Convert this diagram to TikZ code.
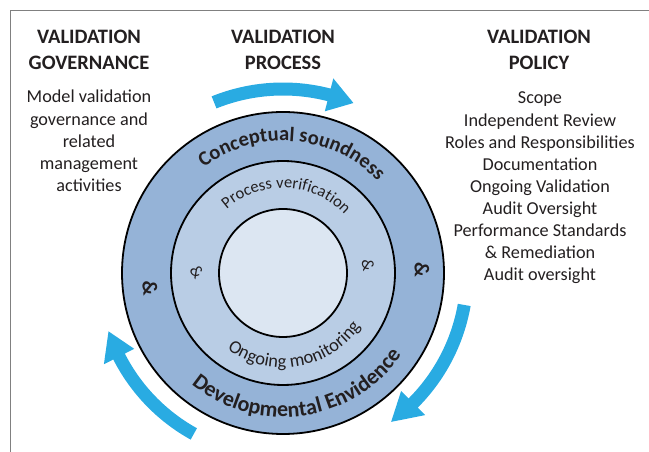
\documentclass[tikz,border=0pt]{standalone}
\usepackage{fontspec}
\setmainfont{Carlito}
\usetikzlibrary{calc,decorations.text}
\definecolor{ringout}{HTML}{95B3D7}
\definecolor{ringmid}{HTML}{B9CDE5}
\definecolor{ringin}{HTML}{DCE6F2}
\definecolor{cyc}{HTML}{29ABE2}
\definecolor{ink}{HTML}{231F20}
\newcommand{\cyclearrow}[3]{%
  \fill[cyc] ($(C)+(#1:190.5pt)$) arc[start angle=#1,end angle=#2,radius=190.5pt]
    -- ($(C)+(#2:201pt)$) -- ($(C)+(#3:184pt)$) -- ($(C)+(#2:167pt)$)
    -- ($(C)+(#2:177.5pt)$) arc[start angle=#2,end angle=#1,radius=177.5pt] -- cycle;}
\tikzset{
  ring/.style={circle, draw=black, line width=1.8pt, inner sep=0pt},
  title/.style={font=\fontsize{20.5}{26}\selectfont\bfseries, text=ink, align=center, inner sep=0pt, anchor=base},
  body/.style={font=\fontsize{18.2}{22.1}\selectfont, text=ink, align=center, inner sep=0pt, anchor=base},
  ampbig/.style={font=\fontsize{21}{21}\selectfont\bfseries, text=ink, inner sep=0pt},
  ampsmall/.style={font=\fontsize{17}{17}\selectfont, text=ink, inner sep=0pt}
}
\begin{document}
\begin{tikzpicture}[x=1pt,y=1pt]
\useasboundingbox (0,0) rectangle (649,452);
\coordinate (C) at (283,179);
\coordinate (fb) at (10,0);
\coordinate (fl) at (10,441);
\coordinate (fr) at (649,441);
\draw[gray, line width=1pt] (fb) -- (fl) -- (fr);

% cycle arrows
\cyclearrow{112}{75.5}{67.5}
\cyclearrow{-10}{-45}{-54}
\cyclearrow{241}{207}{198.5}

% rings
\node[ring, fill=ringout, minimum size=322pt] (outer) at (C) {};
\node[ring, fill=ringmid, minimum size=224pt] (mid) at (C) {};
\node[ring, fill=ringin, minimum size=128pt] (inner) at (C) {};

% curved texts
\path[decorate, decoration={text along path, text align=center, text color=ink,
  text={|\fontsize{20.5}{20.5}\selectfont\bfseries|Conceptual soundness}}]
  ($(C)+(175.5:132pt)$) arc[start angle=175.5, end angle=-4.5, radius=132pt];
\path[decorate, decoration={text along path, text align=center, text color=ink,
  text={|\fontsize{22}{22}\selectfont\bfseries|Developmental Envidence}}]
  ($(C)+(187.9:144pt)$) arc[start angle=187.9, end angle=367.9, radius=144pt];
\path[decorate, decoration={text along path, text align=center, text color=ink,
  text={|\fontsize{16.5}{16.5}\selectfont|Process verification}}]
  ($(C)+(177.5:85pt)$) arc[start angle=177.5, end angle=-2.5, radius=85pt];
\path[decorate, decoration={text along path, text align=center, text color=ink,
  text={|\fontsize{18.5}{18.5}\selectfont|Ongoing monitoring}}]
  ($(C)+(189.5:94.5pt)$) arc[start angle=189.5, end angle=369.5, radius=94.5pt];

% ampersands
\node[ampbig, rotate=-84] (a1) at (150,164) {\&};
\node[ampbig, rotate=-89] (a2) at (422,182) {\&};
\node[ampsmall, rotate=-55] (a3) at (197,180) {\&};
\node[ampsmall, rotate=-80] (a4) at (368,187) {\&};

% titles (anchor = baseline of the last line)
\node[title] (t1) at (89,382) {VALIDATION\\GOVERNANCE};
\node[title] (t2) at (283,382) {VALIDATION\\PROCESS};
\node[title] (t3) at (539,382) {VALIDATION\\POLICY};

% body texts (anchor = baseline of the last line)
\node[body] (b1) at (89,260.6) {Model validation\\governance and\\related\\management\\activities};
\node[body] (b2) at (540,171.2) {Scope\\Independent Review\\Roles and Responsibilities\\Documentation\\Ongoing Validation\\Audit Oversight\\Performance Standards\\\& Remediation\\Audit oversight};
\end{tikzpicture}
\end{document}
